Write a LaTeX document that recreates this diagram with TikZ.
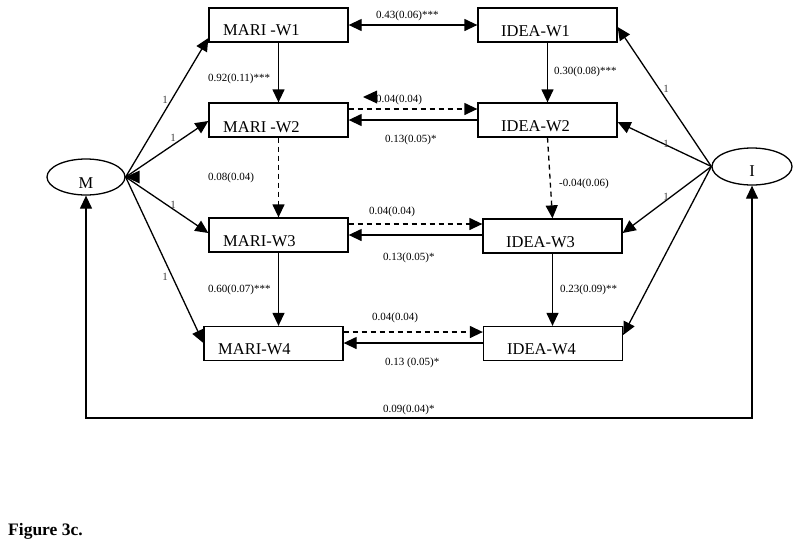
\documentclass[tikz,border=0pt]{standalone}
\usepackage{fontspec}
\setmainfont{Liberation Serif}
\usetikzlibrary{arrows.meta,shapes.geometric,calc}
\begin{document}
\begin{tikzpicture}[x=1pt,y=-1pt,
  box/.style={draw,line width=1.3pt,minimum width=139pt,minimum height=34pt,inner sep=0pt},
  lat/.style={draw,ellipse,line width=1.3pt,inner sep=0pt},
  btxt/.style={font=\fontsize{16.5}{18}\selectfont,anchor=base west,inner sep=0pt},
  ltxt/.style={font=\fontsize{16.5}{18}\selectfont,anchor=base,inner sep=0pt},
  lbl/.style={font=\fontsize{11}{12}\selectfont,anchor=west,inner sep=0pt},
  one/.style={font=\fontsize{11}{12}\selectfont,text=black!75,inner sep=0pt},
  ln/.style={line width=1.3pt},
  arr/.style={ln,-{Triangle[length=13pt,width=12pt]}},
  darr/.style={ln,{Triangle[length=13pt,width=12pt]}-{Triangle[length=13pt,width=12pt]}},
  dsh/.style={dash pattern=on 5pt off 4pt},
]
\useasboundingbox (0,0) rectangle (800,550);

% boxes
\node[box] (m1) at (278.5,25) {};
\node[box] (m2) at (278.5,120) {};
\node[box] (m3) at (278.5,235) {};
\node[box] (m4) at (273.5,343.5) {};
\node[box] (i1) at (547.5,25) {};
\node[box] (i2) at (547.5,120) {};
\node[box] (i3) at (552.5,236) {};
\node[box] (i4) at (553,343.5) {};

\node[btxt] (m1t) at (223,35) {MARI -W1};
\node[btxt] (m2t) at (223,132) {MARI -W2};
\node[btxt] (m3t) at (223,246) {MARI-W3};
\node[btxt] (m4t) at (218,354) {MARI-W4};
\node[btxt] (i1t) at (501,36) {IDEA-W1};
\node[btxt] (i2t) at (501,131) {IDEA-W2};
\node[btxt] (i3t) at (506,247) {IDEA-W3};
\node[btxt] (i4t) at (507,354) {IDEA-W4};

% latent
\node[lat,minimum width=78pt,minimum height=36pt] (M) at (86,177) {};
\node[lat,minimum width=80pt,minimum height=37pt] (I) at (752,166.5) {};
\node[ltxt] (Mt) at (86,188) {M};
\node[ltxt] (It) at (752,176) {I};

% loadings from M
\draw[arr] (M.east) -- (m1.west |- 0,38);
\draw[arr] (M.east) -- (m2.west |- 0,121);
\draw[arr] (M.east) -- (m3.west |- 0,233);
\draw[arr] (M.east) -- (m4.west |- 0,343);
\fill (M.east) -- ++(14,-6.5) -- ++(0,13) -- cycle;
\node[one] (l1) at (165,100) {1};
\node[one] (l2) at (173,138) {1};
\node[one] (l3) at (173,205) {1};
\node[one] (l4) at (165,277) {1};

% loadings from I
\draw[arr] (I.west) -- (i1.east |- 0,27);
\draw[arr] (I.west) -- (i2.east |- 0,122);
\draw[arr] (I.west) -- (i3.east |- 0,233);
\draw[arr] (I.west) -- (i4.east |- 0,335);
\node[one] (r1) at (666,89) {1};
\node[one] (r2) at (666,144) {1};
\node[one] (r3) at (666,197) {1};

% autoregressive
\draw[arr] (m1.south) -- (m2.north);
\draw[arr,dsh] (m2.south) -- (m3.north);
\draw[arr] (m3.south) -- (m3.south |- m4.north);
\draw[arr] (i1.south) -- (i2.north);
\draw[arr,dsh] (i2.south) -- (i3.north);
\draw[arr] (i3.south) -- (i3.south |- i4.north);
\node[lbl] (a1) at (208,79) {0.92(0.11)***};
\node[lbl] (a2) at (208,178) {0.08(0.04)};
\node[lbl] (a3) at (208,290) {0.60(0.07)***};
\node[lbl] (b1) at (554,72) {0.30(0.08)***};
\node[lbl] (b2) at (559,184) {-0.04(0.06)};
\node[lbl] (b3) at (560,290) {0.23(0.09)**};

% cross paths
\draw[darr] (m1.east |- 0,25) -- (i1.west |- 0,25);
\node[lbl] (c1) at (376,16) {0.43(0.06)***};

\draw[arr,dsh] (m2.east |- 0,109) -- (i2.west |- 0,109);
\draw[arr] (i2.west |- 0,120) -- (m2.east |- 0,120);
\fill (363,97) -- (377,90.5) -- (377,103.5) -- cycle;
\node[lbl] (c2) at (376,100) {0.04(0.04)};
\node[lbl] (d2) at (385,140) {0.13(0.05)*};

\draw[arr,dsh] (m3.east |- 0,224) -- (i3.west |- 0,224);
\draw[arr] (i3.west |- 0,235) -- (m3.east |- 0,235);
\node[lbl] (c3) at (369,212) {0.04(0.04)};
\node[lbl] (d3) at (383,258) {0.13(0.05)*};

\draw[arr,dsh] (m4.east |- 0,332) -- (i4.west |- 0,332);
\draw[arr] (i4.west |- 0,343) -- (m4.east |- 0,343);
\node[lbl] (c4) at (372,318) {0.04(0.04)};
\node[lbl] (d4) at (385,363) {0.13 (0.05)*};

% latent covariance
\draw[darr] (M.south) -- (M.south |- 0,418) -- (I.south |- 0,418) -- (I.south);
\node[lbl] (e1) at (383,410) {0.09(0.04)*};

% caption
\node[font=\bfseries\fontsize{17.5}{19}\selectfont,anchor=base west,inner sep=0pt] (cap) at (8,535) {Figure 3c.};
\end{tikzpicture}
\end{document}
